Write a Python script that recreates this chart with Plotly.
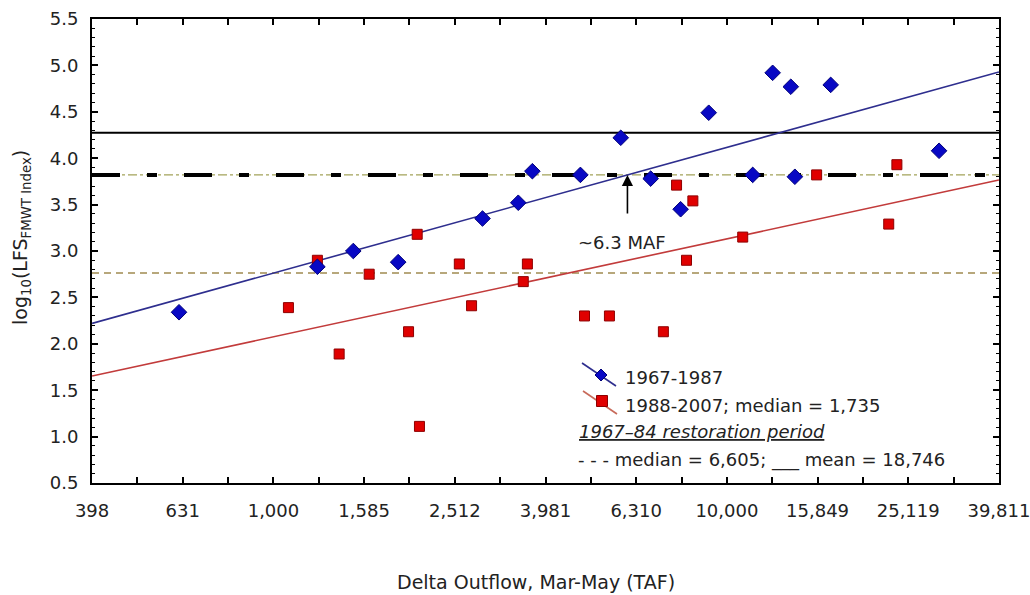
import numpy as np
import plotly.graph_objects as go

# ---------------- data ----------------
tick_labels = ["398", "631", "1,000", "1,585", "2,512", "3,981", "6,310",
               "10,000", "15,849", "25,119", "39,811"]

blue_flow = [619, 1250, 1500, 1884, 2891, 3467, 3724, 4753, 5834, 6792,
             7907, 9120, 11402, 12618, 13836, 14125, 16943, 29376]
blue_lfs = [2.34, 2.83, 3.00, 2.88, 3.35, 3.52, 3.86, 3.82, 4.22, 3.78,
            3.45, 4.49, 3.82, 4.92, 4.77, 3.80, 4.79, 4.08]

red_flow = [1079, 1250, 1396, 1626, 1986, 2075, 2099, 2570, 2735, 3556,
            3631, 4853, 5508, 7244, 7745, 8147, 8414, 10839, 15776, 22751, 23714]
red_lfs = [2.39, 2.90, 1.89, 2.75, 2.13, 3.18, 1.11, 2.86, 2.41, 2.67,
           2.86, 2.30, 2.30, 2.13, 3.71, 2.90, 3.54, 3.15, 3.82, 3.29, 3.93]

blue_fit = (-1.303, 1.355)   # intercept, slope vs log10(flow)
red_fit = (-1.093, 1.056)

mean_lfs_6784 = 18746
median_lfs_6784 = 6605
red_median_log = 2.763

# ---------------- figure ----------------
FONT = "DejaVu Sans"
L, R, T, B = 92, 31, 19, 112
W, H = 1030, 595
PW, PH = W - L - R, H - T - B


def px(x):
    return (x - L) / PW


def py(y):
    return (H - B - y) / PH


x_lo, x_hi = 2.6, 4.6
fit_x = [10 ** x_lo, 10 ** x_hi]

fig = go.Figure()

# regression lines
for (a, b), col in [(blue_fit, "#2e2e8e"), (red_fit, "#c23b3b")]:
    fig.add_trace(go.Scatter(
        x=fit_x, y=[a + b * np.log10(v) for v in fit_x], mode="lines",
        line=dict(color=col, width=1.6), hoverinfo="skip", showlegend=False))

fig.add_trace(go.Scatter(
    x=red_flow, y=red_lfs, mode="markers",
    marker=dict(symbol="square", size=10, color="#e00000",
                line=dict(color="#8e0000", width=1)),
    showlegend=False))
fig.add_trace(go.Scatter(
    x=blue_flow, y=blue_lfs, mode="markers",
    marker=dict(symbol="diamond", size=12, color="#0808c4",
                line=dict(color="#00007a", width=1)),
    showlegend=False))

shapes = []
# mean line
shapes.append(dict(type="line", xref="paper", x0=0, x1=1, yref="y",
                   y0=np.log10(mean_lfs_6784), y1=np.log10(mean_lfs_6784),
                   line=dict(color="black", width=2), layer="below"))
# median line: thin dash-dot under thick black long dashes
med = np.log10(median_lfs_6784)
shapes.append(dict(type="line", xref="paper", x0=0, x1=1, yref="y",
                   y0=med, y1=med,
                   line=dict(color="#a3a35a", width=1.2, dash="dashdot"), layer="below"))
shapes.append(dict(type="line", xref="paper", x0=0, x1=1, yref="y",
                   y0=med, y1=med,
                   line=dict(color="black", width=4, dash="28px,27px,10px,27px"),
                   layer="below"))
# 1988-2007 median line
shapes.append(dict(type="line", xref="paper", x0=0, x1=1, yref="y",
                   y0=red_median_log, y1=red_median_log,
                   line=dict(color="#a08a50", width=1.4, dash="7px,5px"), layer="below"))

# legend glyphs
shapes.append(dict(type="line", xref="paper", yref="paper",
                   x0=px(582), y0=py(363), x1=px(616), y1=py(386),
                   line=dict(color="#2e2e8e", width=1.6)))
shapes.append(dict(type="line", xref="paper", yref="paper",
                   x0=px(583), y0=py(391), x1=px(617), y1=py(414),
                   line=dict(color="#c86a5a", width=1.6)))
cx, cy, r = 601, 375, 6
shapes.append(dict(type="path", xref="paper", yref="paper",
                   path=f"M {px(cx)} {py(cy - r)} L {px(cx + r)} {py(cy)} L {px(cx)} {py(cy + r)} L {px(cx - r)} {py(cy)} Z",
                   fillcolor="#0808c4", line=dict(color="#00007a", width=1)))
sx, sy, s = 602, 401, 5.5
shapes.append(dict(type="rect", xref="paper", yref="paper",
                   x0=px(sx - s), x1=px(sx + s), y0=py(sy + s), y1=py(sy - s),
                   fillcolor="#e00000", line=dict(color="#8e0000", width=1)))

# arrow at intersection of blue fit and median line
x_int = (med - blue_fit[0]) / blue_fit[1]

annotations = [
    dict(x=x_int, y=med, xref="x", yref="y", ax=0, ay=40, text="",
         showarrow=True, arrowhead=2, arrowsize=1.4, arrowwidth=1.6,
         arrowcolor="black", standoff=0),
    dict(x=px(622), y=py(243), xref="paper", yref="paper", text="~6.3 MAF",
         showarrow=False, font=dict(family=FONT, size=18, color="#222"),
         xanchor="center", yanchor="middle"),
    dict(x=px(623), y=py(377), xref="paper", yref="paper", text="1967-1987",
         showarrow=False, font=dict(family=FONT, size=18, color="#222"),
         xanchor="left", yanchor="middle"),
    dict(x=px(623), y=py(405), xref="paper", yref="paper",
         text="1988-2007; median = 1,735",
         showarrow=False, font=dict(family=FONT, size=18, color="#222"),
         xanchor="left", yanchor="middle"),
    dict(x=px(577), y=py(431), xref="paper", yref="paper",
         text="<i><u>1967–84 restoration period</u></i>",
         showarrow=False, font=dict(family=FONT, size=18, color="#222"),
         xanchor="left", yanchor="middle"),
    dict(x=px(576), y=py(460), xref="paper", yref="paper",
         text="- - - median = 6,605; ___ mean = 18,746",
         showarrow=False, font=dict(family=FONT, size=18, color="#222"),
         xanchor="left", yanchor="middle"),
    # axis titles
    dict(x=px(22), y=py(238), xref="paper", yref="paper",
         text="log<sub>10</sub>(LFS<sub>FMWT Index</sub>)", textangle=-90,
         showarrow=False, font=dict(family=FONT, size=19, color="#222"),
         xanchor="center", yanchor="middle"),
    dict(x=px(536), y=py(582), xref="paper", yref="paper",
         text="Delta Outflow, Mar-May (TAF)",
         showarrow=False, font=dict(family=FONT, size=19, color="#222"),
         xanchor="center", yanchor="middle"),
]

xt_major = [10 ** (x_lo + 0.2 * i) for i in range(11)]
xt_minor = [10 ** (x_lo + 0.1 + 0.2 * i) for i in range(10)]

fig.update_layout(
    width=W, height=H,
    margin=dict(l=L, r=R, t=T, b=B, autoexpand=False),
    paper_bgcolor="white", plot_bgcolor="white",
    shapes=shapes, annotations=annotations,
    font=dict(family=FONT, size=18, color="#222"),
    xaxis=dict(type="log", range=[x_lo - 0.0002, x_hi + 0.0002],
               tickmode="array", tickvals=xt_major, ticktext=tick_labels,
               ticklabeloverflow="allow", automargin=False,
               showgrid=False, zeroline=False, showline=True, linecolor="black",
               linewidth=2, mirror="ticks", ticks="inside", ticklen=6,
               tickwidth=1.5, tickcolor="black", ticklabelstandoff=10,
               tickfont=dict(family=FONT, size=18, color="#222"),
               minor=dict(tickmode="array", tickvals=xt_minor, ticks="inside",
                          ticklen=6, tickwidth=1.5, tickcolor="black",
                          showgrid=False)),
    yaxis=dict(range=[0.5, 5.5], dtick=0.5, tick0=0.5, tickformat=".1f",
               automargin=False,
               showgrid=False, zeroline=False, showline=True, linecolor="black",
               linewidth=2, mirror="ticks", ticks="inside", ticklen=6,
               tickwidth=1.5, tickcolor="black", ticklabelstandoff=8,
               tickfont=dict(family=FONT, size=18, color="#222"),
               minor=dict(dtick=0.1, ticks="inside", ticklen=3,
                          tickcolor="black", tickwidth=1, showgrid=False)),
)

fig.write_html("out.html")
